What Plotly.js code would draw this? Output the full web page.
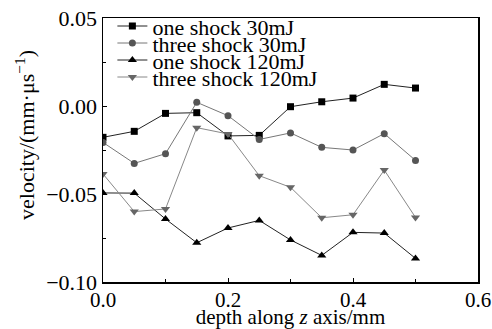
<!DOCTYPE html>
<html>
<head>
<meta charset="utf-8">
<script src="https://cdn.plot.ly/plotly-3.0.1.min.js"></script>
<style>html,body{margin:0;padding:0;background:#fff;}</style>
</head>
<body>
<div id="chart" style="width:492px;height:329px;"></div>
<script>
const depth = [0, 0.05, 0.1, 0.15, 0.2, 0.25, 0.3, 0.35, 0.4, 0.45, 0.5];
const oneShock30 = [-0.0178, -0.0144, -0.0042, -0.0038, -0.0170, -0.0167, -0.0004, 0.0024, 0.0045, 0.0123, 0.0102];
const threeShock30 = [-0.0207, -0.0326, -0.0271, 0.0021, -0.0055, -0.0190, -0.0153, -0.0235, -0.0250, -0.0157, -0.0309];
const oneShock120 = [-0.0494, -0.0495, -0.0642, -0.0777, -0.0693, -0.0650, -0.0761, -0.0849, -0.0718, -0.0722, -0.0866];
const threeShock120 = [-0.0386, -0.0600, -0.0585, -0.0123, -0.0159, -0.0396, -0.0462, -0.0635, -0.0618, -0.0364, -0.0633];
const seriesNames = ["one shock 30mJ", "three shock 30mJ", "one shock 120mJ", "three shock 120mJ"];
const xTitle = "depth along <i>z</i> axis/mm";
const yTitle = "velocity/(mm·μs<sup>−1</sup>)";

const FONT = "Liberation Serif";

function tr(y, name, sym, mcol, lcol, size) {
  return {
    x: depth, y: y, name: name, type: "scatter", mode: "lines+markers",
    line: {color: lcol, width: 1},
    marker: {symbol: sym, color: mcol, size: size}
  };
}

const data = [
  tr(oneShock30, seriesNames[0], "square", "#000", "#222", 7),
  tr(threeShock30, seriesNames[1], "circle", "#555", "#777", 7),
  tr(oneShock120, seriesNames[2], "triangle-up", "#000", "#222", 8),
  tr(threeShock120, seriesNames[3], "triangle-down", "#666", "#888", 8)
];

const layout = {
  width: 492, height: 329,
  margin: {l: 103, r: 14, t: 18, b: 47},
  paper_bgcolor: "#fff", plot_bgcolor: "#fff",
  font: {family: FONT, size: 22, color: "#000"},
  showlegend: true,
  legend: {
    x: 0.025, y: 1.0, xanchor: "left", yanchor: "top",
    bgcolor: "rgba(0,0,0,0)", borderwidth: 0,
    font: {family: FONT, size: 22, color: "#000"},
    tracegroupgap: 0
  },
  xaxis: {
    range: [0, 0.6], dtick: 0.2, tick0: 0, tickformat: ".1f",
    ticks: "inside", ticklen: 4, tickcolor: "#000", tickwidth: 1,
    minor: {dtick: 0.1, ticks: "inside", ticklen: 3, tickcolor: "#000", showgrid: false},
    showline: true, linecolor: "#000", linewidth: 1.5, mirror: true,
    showgrid: false, zeroline: false,
    ticklabelstandoff: -2,
    tickfont: {family: FONT, size: 21},
    title: {text: xTitle, font: {family: FONT, size: 21}, standoff: 3}
  },
  yaxis: {
    range: [-0.1, 0.05], dtick: 0.05, tick0: 0, tickformat: ".2f",
    ticks: "inside", ticklen: 4, tickcolor: "#000", tickwidth: 1,
    minor: {dtick: 0.025, ticks: "inside", ticklen: 3, tickcolor: "#000", showgrid: false},
    showline: true, linecolor: "#000", linewidth: 1.5, mirror: true,
    showgrid: false, zeroline: false,
    tickfont: {family: FONT, size: 22}
  },
  annotations: [{
    text: yTitle, xref: "paper", yref: "paper", x: -0.208, y: 0.557,
    xanchor: "center", yanchor: "middle", textangle: -90, showarrow: false,
    font: {family: FONT, size: 22, color: "#000"}
  }]
};

Plotly.newPlot("chart", data, layout, {displayModeBar: false, staticPlot: true}).then(function (gd) {
  // tighten legend row spacing to match reference
  const items = gd.querySelectorAll(".legend .traces");
  items.forEach(function (el, i) {
    el.setAttribute("transform", "translate(0," + (8 + i * 17) + ")");
  });
});
</script>
</body>
</html>
